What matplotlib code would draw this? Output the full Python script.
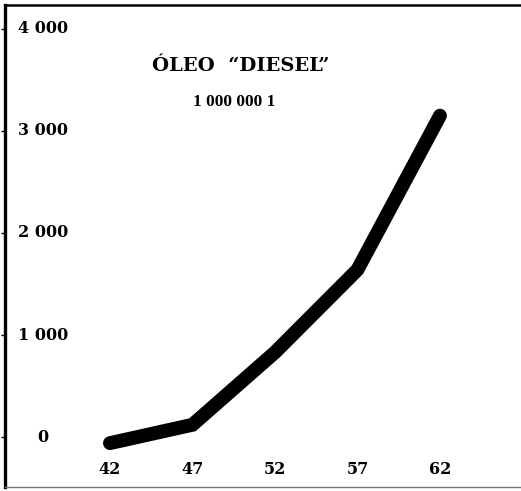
import matplotlib
matplotlib.use("Agg")
import matplotlib.pyplot as plt
from matplotlib.transforms import blended_transform_factory

# Data
years = [42, 47, 52, 57, 62]
diesel = [-60, 120, 830, 1640, 3150]
year_labels = ["42", "47", "52", "57", "62"]
y_ticks = [0, 1000, 2000, 3000, 4000]
y_tick_labels = ["0", "1 000", "2 000", "3 000", "4 000"]
title = "ÓLEO  “DIESEL”"
subtitle = "1 000 000 1"

W, H = 521, 491
fig = plt.figure(figsize=(W / 100, H / 100), dpi=100)
ax = fig.add_axes([5 / W, 4 / H, 1 - 5 / W, (487 - 5) / H])

ax.set_xlim(35.64, 66.91)
ax.set_ylim(-490, 4235)

ax.plot(years, diesel, color="black", lw=10, solid_capstyle="round",
        solid_joinstyle="miter")

font = dict(family="DejaVu Serif", weight="bold", color="black")

# spines
ax.spines["right"].set_visible(False)
ax.spines["left"].set_linewidth(2.4)
ax.spines["top"].set_linewidth(1.8)
ax.spines["bottom"].set_linewidth(1.0)
ax.spines["bottom"].set_color("#777777")

ax.set_xticks([])
ax.set_yticks(y_ticks)
ax.set_yticklabels([])
ax.tick_params(axis="y", direction="out", length=3, width=1)

tr = blended_transform_factory(ax.transAxes, ax.transData)
for v, lab in zip(y_ticks, y_tick_labels):
    ax.text(38 / W, v, lab, transform=tr, ha="center", va="center",
            fontsize=11.5, **font)

for x, lab in zip(years, year_labels):
    ax.text(x, -320, lab, ha="center", va="center", fontsize=11.5, **font)

ax.text(241 / W, 1 - 66 / H, title, transform=fig.transFigure, ha="center",
        va="center", fontsize=14, **font)
ax.text(234 / W, 1 - 102 / H, subtitle, transform=fig.transFigure,
        ha="center", va="center", fontsize=12.5, family="Liberation Serif",
        weight="bold", color="black")

fig.savefig("out.png", dpi=100)
